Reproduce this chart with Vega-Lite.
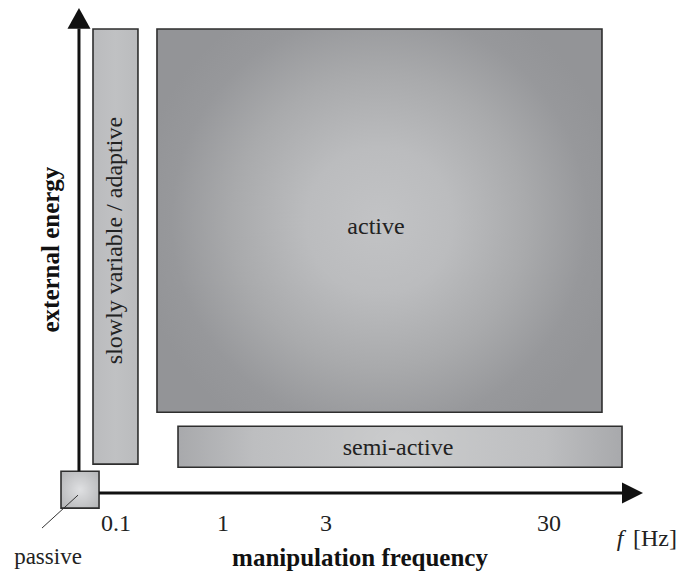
{
  "$schema": "https://vega.github.io/schema/vega-lite/v6.json",
  "width": 694,
  "height": 572,
  "padding": 0,
  "autosize": {"type": "fit", "contains": "padding"},
  "config": {"view": {"stroke": null}, "text": {"font": "Liberation Serif"}},
  "background": "white",
  "datasets": {
    "regions": [
      {"region": "passive", "x1": 8.79, "x2": 14.27, "y1": 11.01, "y2": 17.48},
      {"region": "slowly variable / adaptive", "x1": 13.4, "x2": 19.88, "y1": 18.71, "y2": 94.93},
      {"region": "active", "x1": 22.62, "x2": 86.74, "y1": 27.8, "y2": 94.93},
      {"region": "semi-active", "x1": 25.65, "x2": 89.63, "y1": 18.18, "y2": 25.35}
    ],
    "lines": [
      {"line": "energy axis", "x1": 11.38, "x2": 11.38, "y1": 17.48, "y2": 95.0},
      {"line": "frequency axis", "x1": 14.27, "x2": 89.9, "y1": 13.64, "y2": 13.64}
    ],
    "leader": [
      {"line": "passive leader", "x1": 6.05, "x2": 11.24, "y1": 7.52, "y2": 13.29}
    ],
    "arrows": [
      {"arrow": "up", "x": 11.38, "y": 96.77},
      {"arrow": "right", "x": 91.14, "y": 13.64}
    ],
    "labels": [
      {"kind": "tick", "text": "0.1", "x": 16.71, "y": 8.22},
      {"kind": "tick", "text": "1", "x": 32.13, "y": 8.22},
      {"kind": "tick", "text": "3", "x": 46.97, "y": 8.22},
      {"kind": "tick", "text": "30", "x": 79.11, "y": 8.22},
      {"kind": "tick", "text": "[Hz]", "x": 94.38, "y": 5.59},
      {"kind": "unit", "text": "f", "x": 89.34, "y": 5.59},
      {"kind": "note", "text": "passive", "x": 6.92, "y": 2.45},
      {"kind": "xtitle", "text": "manipulation frequency", "x": 51.87, "y": 2.27},
      {"kind": "ytitle", "text": "external energy", "x": 7.35, "y": 56.29},
      {"kind": "region", "text": "active", "x": 54.18, "y": 60.31},
      {"kind": "region", "text": "semi-active", "x": 57.35, "y": 21.5},
      {"kind": "vregion", "text": "slowly variable / adaptive", "x": 16.57, "y": 57.87}
    ]
  },
  "encoding": {
    "x": {"field": "x1", "type": "quantitative", "scale": {"domain": [0, 100], "nice": false, "zero": false}, "axis": null},
    "y": {"field": "y1", "type": "quantitative", "scale": {"domain": [0, 100], "nice": false, "zero": false}, "axis": null}
  },
  "layer": [
    {
      "data": {"name": "regions"},
      "transform": [{"filter": "datum.region === 'passive'"}],
      "mark": {"type": "rect", "stroke": "#2e2e2e", "strokeWidth": 1.6,
        "fill": {"gradient": "radial", "x1": 0.5, "y1": 0.5, "r1": 0, "x2": 0.5, "y2": 0.5, "r2": 0.65,
          "stops": [{"offset": 0, "color": "#dfe0e2"}, {"offset": 1, "color": "#b5b6b8"}]}},
      "encoding": {"x2": {"field": "x2"}, "y2": {"field": "y2"}}
    },
    {
      "data": {"name": "regions"},
      "transform": [{"filter": "datum.region === 'slowly variable / adaptive'"}],
      "mark": {"type": "rect", "stroke": "#2e2e2e", "strokeWidth": 1.6,
        "fill": {"gradient": "linear", "x1": 0, "y1": 0, "x2": 1, "y2": 0,
          "stops": [{"offset": 0, "color": "#babbbd"}, {"offset": 0.5, "color": "#c0c1c3"}, {"offset": 1, "color": "#babbbd"}]}},
      "encoding": {"x2": {"field": "x2"}, "y2": {"field": "y2"}}
    },
    {
      "data": {"name": "regions"},
      "transform": [{"filter": "datum.region === 'active'"}],
      "mark": {"type": "rect", "stroke": "#2e2e2e", "strokeWidth": 1.6,
        "fill": {"gradient": "radial", "x1": 0.5, "y1": 0.5, "r1": 0, "x2": 0.5, "y2": 0.5, "r2": 0.55,
          "stops": [{"offset": 0, "color": "#c2c3c5"}, {"offset": 0.3, "color": "#bbbcbe"}, {"offset": 0.6, "color": "#a9aaac"}, {"offset": 0.85, "color": "#97989b"}, {"offset": 1, "color": "#939497"}]}},
      "encoding": {"x2": {"field": "x2"}, "y2": {"field": "y2"}}
    },
    {
      "data": {"name": "regions"},
      "transform": [{"filter": "datum.region === 'semi-active'"}],
      "mark": {"type": "rect", "stroke": "#2e2e2e", "strokeWidth": 1.6,
        "fill": {"gradient": "radial", "x1": 0.5, "y1": 0.5, "r1": 0, "x2": 0.5, "y2": 0.5, "r2": 0.55,
          "stops": [{"offset": 0, "color": "#cbcccd"}, {"offset": 0.6, "color": "#bdbec0"}, {"offset": 1, "color": "#a2a3a6"}]}},
      "encoding": {"x2": {"field": "x2"}, "y2": {"field": "y2"}}
    },
    {
      "data": {"name": "lines"},
      "mark": {"type": "rule", "color": "#111111", "strokeWidth": 3},
      "encoding": {"x2": {"field": "x2"}, "y2": {"field": "y2"}}
    },
    {
      "data": {"name": "leader"},
      "mark": {"type": "rule", "color": "#333333", "strokeWidth": 1},
      "encoding": {"x2": {"field": "x2"}, "y2": {"field": "y2"}}
    },
    {
      "data": {"name": "arrows"},
      "transform": [{"filter": "datum.arrow === 'up'"}],
      "mark": {"type": "point", "shape": "M-1,0.9L0,-0.9L1,0.9Z", "size": 529, "filled": true, "color": "#111111", "opacity": 1},
      "encoding": {"x": {"field": "x", "type": "quantitative"}, "y": {"field": "y", "type": "quantitative"}}
    },
    {
      "data": {"name": "arrows"},
      "transform": [{"filter": "datum.arrow === 'right'"}],
      "mark": {"type": "point", "shape": "M-1,-1L1,0L-1,1Z", "size": 441, "filled": true, "color": "#111111", "opacity": 1},
      "encoding": {"x": {"field": "x", "type": "quantitative"}, "y": {"field": "y", "type": "quantitative"}}
    },
    {
      "data": {"name": "labels"},
      "transform": [{"filter": "datum.kind === 'tick' || datum.kind === 'region'"}],
      "mark": {"type": "text", "font": "Liberation Serif", "fontSize": 24, "color": "#222222", "baseline": "middle", "align": "center"},
      "encoding": {"x": {"field": "x", "type": "quantitative"}, "y": {"field": "y", "type": "quantitative"}, "text": {"field": "text"}}
    },
    {
      "data": {"name": "labels"},
      "transform": [{"filter": "datum.kind === 'unit'"}],
      "mark": {"type": "text", "font": "Liberation Serif", "fontSize": 24, "fontStyle": "italic", "color": "#222222", "baseline": "middle", "align": "center"},
      "encoding": {"x": {"field": "x", "type": "quantitative"}, "y": {"field": "y", "type": "quantitative"}, "text": {"field": "text"}}
    },
    {
      "data": {"name": "labels"},
      "transform": [{"filter": "datum.kind === 'note'"}],
      "mark": {"type": "text", "font": "Liberation Serif", "fontSize": 23, "color": "#222222", "baseline": "middle", "align": "center"},
      "encoding": {"x": {"field": "x", "type": "quantitative"}, "y": {"field": "y", "type": "quantitative"}, "text": {"field": "text"}}
    },
    {
      "data": {"name": "labels"},
      "transform": [{"filter": "datum.kind === 'vregion'"}],
      "mark": {"type": "text", "font": "Liberation Serif", "fontSize": 24, "angle": 270, "color": "#222222", "baseline": "middle", "align": "center"},
      "encoding": {"x": {"field": "x", "type": "quantitative"}, "y": {"field": "y", "type": "quantitative"}, "text": {"field": "text"}}
    },
    {
      "data": {"name": "labels"},
      "transform": [{"filter": "datum.kind === 'xtitle'"}],
      "mark": {"type": "text", "font": "Liberation Serif", "fontSize": 25, "fontWeight": "bold", "color": "#111111", "baseline": "middle", "align": "center"},
      "encoding": {"x": {"field": "x", "type": "quantitative"}, "y": {"field": "y", "type": "quantitative"}, "text": {"field": "text"}}
    },
    {
      "data": {"name": "labels"},
      "transform": [{"filter": "datum.kind === 'ytitle'"}],
      "mark": {"type": "text", "font": "Liberation Serif", "fontSize": 25, "fontWeight": "bold", "angle": 270, "color": "#111111", "baseline": "middle", "align": "center"},
      "encoding": {"x": {"field": "x", "type": "quantitative"}, "y": {"field": "y", "type": "quantitative"}, "text": {"field": "text"}}
    }
  ]
}
